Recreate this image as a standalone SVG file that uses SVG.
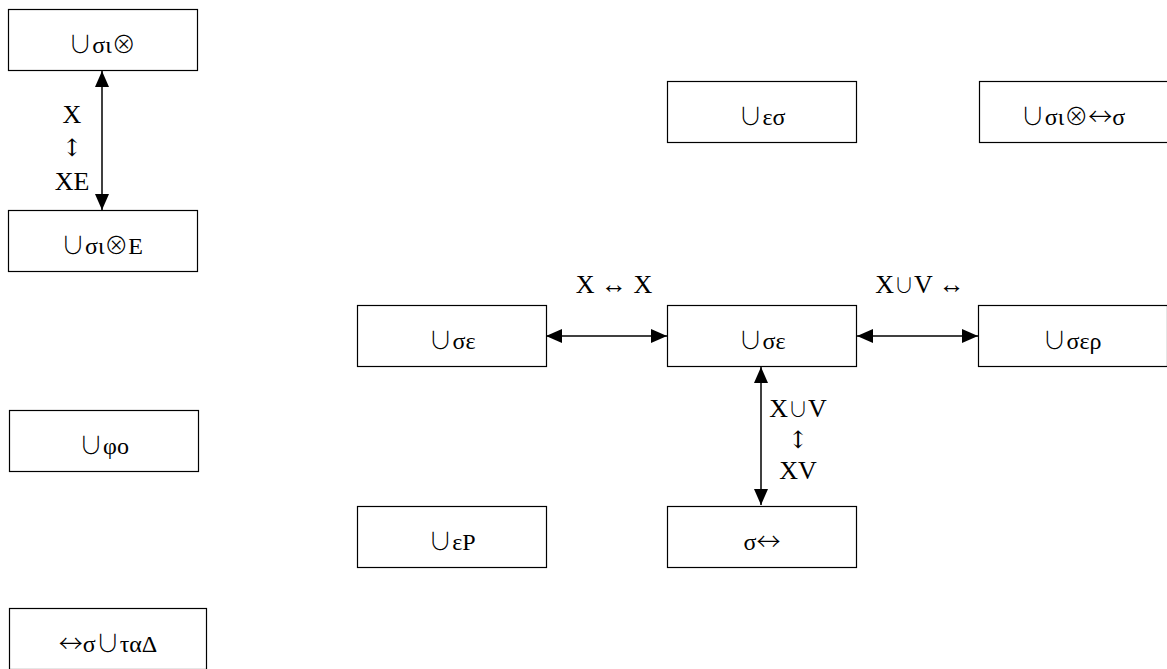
<svg xmlns="http://www.w3.org/2000/svg" width="1167" height="669" viewBox="0 0 1167 669">
<style>
.box{fill:#fff;stroke:#000;stroke-width:1.2}
.t{font-family:"Liberation Serif","DejaVu Serif",serif;font-size:24px;fill:#000;text-anchor:middle}
.l{font-size:26px;dominant-baseline:central}
.s{font-family:"Noto Sans CJK JP","DejaVu Sans",sans-serif;font-weight:300}
.a{font-family:"DejaVu Serif",serif;font-size:24px}
.u{font-family:"Noto Sans CJK JP","DejaVu Sans",sans-serif;font-weight:300;font-size:20px}
.c{stroke:#000;stroke-width:1.5;fill:none;marker-start:url(#ah);marker-end:url(#ah)}
</style>
<defs>
<marker id="ah" markerUnits="userSpaceOnUse" markerWidth="16" markerHeight="14" refX="16" refY="7" orient="auto-start-reverse">
<path d="M0,0 L16,7 L0,14 Z" fill="#000"/>
</marker>
</defs>
<rect width="1167" height="669" fill="#fff"/>
<g id="connectors">
<line class="c" x1="102" y1="71" x2="102" y2="210"/>
<line class="c" x1="546" y1="336" x2="667" y2="336"/>
<line class="c" x1="857" y1="336" x2="978" y2="336"/>
<line class="c" x1="761" y1="367" x2="761" y2="505"/>
<text class="t l" x="72" y="114">X</text>
<text class="t l" x="72" y="148"><tspan class="a">↕</tspan></text>
<text class="t l" x="72" y="181">XE</text>
<text class="t l" x="614" y="284">X ↔ X</text>
<text class="t l" x="920" y="284">X<tspan class="u">∪</tspan>V ↔</text>
<text class="t l" x="798" y="408">X<tspan class="u">∪</tspan>V</text>
<text class="t l" x="798" y="440"><tspan class="a">↕</tspan></text>
<text class="t l" x="798" y="470">XV</text>
</g>
<g id="n1"><rect class="box" x="8.5" y="9.5" width="189" height="61"/><text class="t" x="102" y="53"><tspan class="s">∪</tspan>σι<tspan class="s">⊗</tspan></text></g>
<g id="n2"><rect class="box" x="8.5" y="210.5" width="189" height="61"/><text class="t" x="102" y="254"><tspan class="s">∪</tspan>σι<tspan class="s">⊗</tspan>E</text></g>
<g id="n3"><rect class="box" x="667.5" y="81.5" width="189" height="61"/><text class="t" x="762" y="125"><tspan class="s">∪</tspan>εσ</text></g>
<g id="n4"><rect class="box" x="979.5" y="81.5" width="189" height="61"/><text class="t" x="1073" y="125"><tspan class="s">∪</tspan>σι<tspan class="s">⊗↔</tspan>σ</text></g>
<g id="n5"><rect class="box" x="357.5" y="305.5" width="189" height="61"/><text class="t" x="452" y="349"><tspan class="s">∪</tspan>σε</text></g>
<g id="n6"><rect class="box" x="667.5" y="305.5" width="189" height="61"/><text class="t" x="762" y="349"><tspan class="s">∪</tspan>σε</text></g>
<g id="n7"><rect class="box" x="978.5" y="305.5" width="189" height="61"/><text class="t" x="1072" y="349"><tspan class="s">∪</tspan>σερ</text></g>
<g id="n8"><rect class="box" x="9.5" y="410.5" width="189" height="61"/><text class="t" x="104" y="454"><tspan class="s">∪</tspan>φο</text></g>
<g id="n9"><rect class="box" x="357.5" y="506.5" width="189" height="61"/><text class="t" x="452" y="550"><tspan class="s">∪</tspan>εP</text></g>
<g id="n10"><rect class="box" x="667.5" y="506.5" width="189" height="61"/><text class="t" x="762" y="550">σ<tspan class="s">↔</tspan></text></g>
<g id="n11"><rect class="box" x="9.5" y="608.5" width="197" height="61"/><text class="t" x="108" y="652"><tspan class="s">↔</tspan>σ<tspan class="s">∪</tspan>ταΔ</text></g>
</svg>
